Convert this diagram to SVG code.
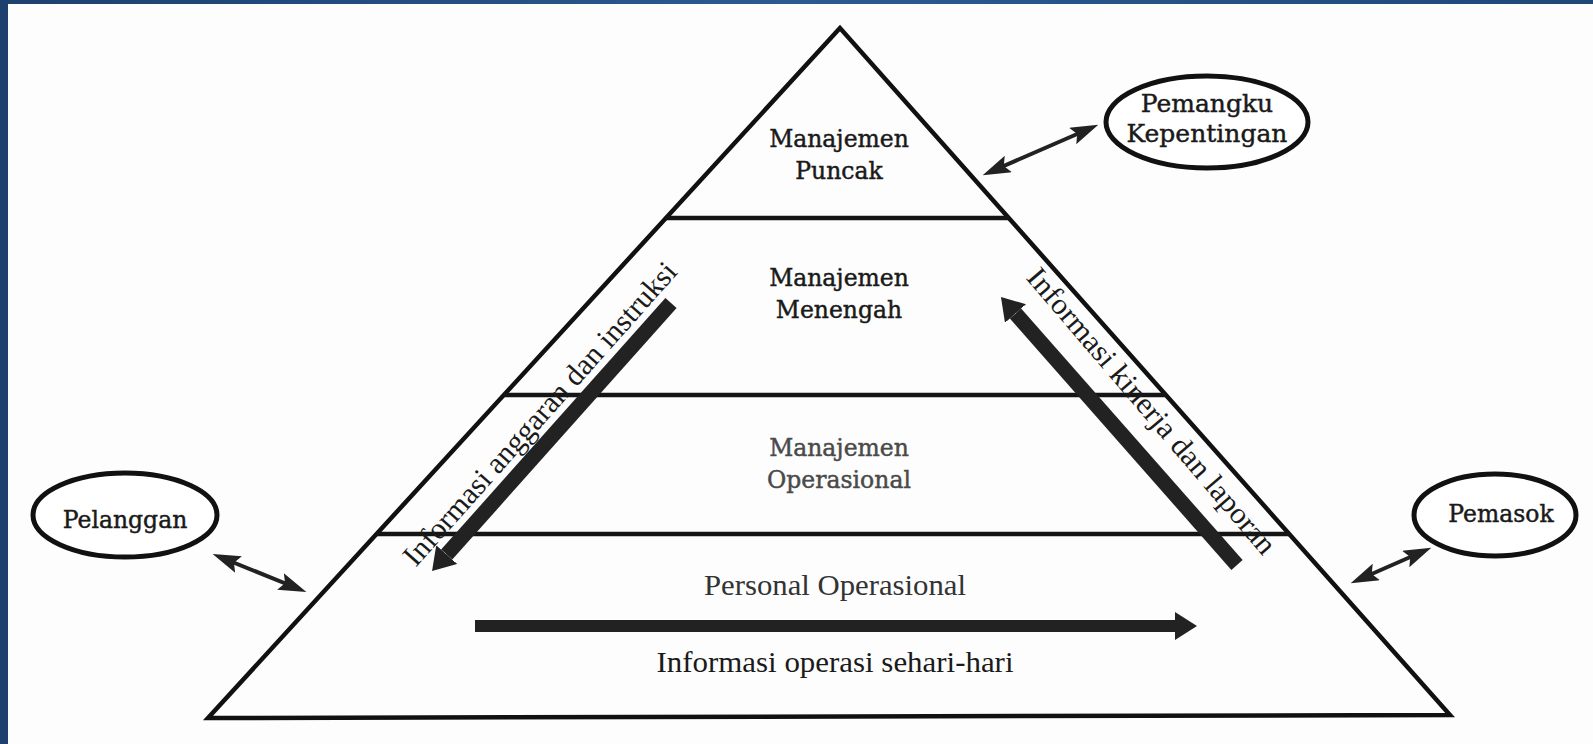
<svg xmlns="http://www.w3.org/2000/svg" width="1593" height="744" viewBox="0 0 1593 744">
  <style>
    .edge { fill: none; stroke: #111; stroke-width: 4.5; stroke-linejoin: miter; stroke-miterlimit: 20; }
    .tier { stroke: #151515; stroke-width: 4.5; }
    .lbl { font-family: "DejaVu Serif", "Liberation Serif", serif; font-size: 23.5px; fill: #1a1a1a; stroke: #1a1a1a; stroke-width: 0.45; text-anchor: middle; }
    .lbl.soft { fill: #4a4a4a; stroke: #4a4a4a; }
    .flow { font-family: "Liberation Serif", "DejaVu Serif", serif; font-size: 30px; fill: #1a1a1a; text-anchor: middle; }
    .flow.soft { fill: #333; }
    .oval { fill: #fff; stroke: #111; stroke-width: 5; }
    .link { stroke: #222; stroke-width: 4; fill: none; }
    .fat { stroke: #222; fill: none; stroke-linecap: butt; }
  </style>
  <defs>
    <linearGradient id="frame" x1="0" y1="0" x2="1" y2="0">
      <stop offset="0" stop-color="#1d406f"/>
      <stop offset="0.5" stop-color="#2b5a93"/>
      <stop offset="1" stop-color="#1f4878"/>
    </linearGradient>
    <!-- small two-way arrow head -->
    <marker id="tip" viewBox="0 0 28 18" markerUnits="userSpaceOnUse" markerWidth="28" markerHeight="18" refX="20" refY="9" orient="auto-start-reverse">
      <path d="M0,0 L28,9 L0,18 L5,9 z" fill="#222"/>
    </marker>
    <!-- head for the wide flow arrows -->
    <marker id="bigtip" viewBox="0 0 22 28" markerUnits="userSpaceOnUse" markerWidth="22" markerHeight="28" refX="0" refY="14" orient="auto">
      <path d="M0,0 L22,14 L0,28 z" fill="#222"/>
    </marker>
  </defs>

  <!-- page frame -->
  <rect x="0" y="0" width="1593" height="744" fill="url(#frame)"/>
  <rect x="8" y="4" width="1585" height="740" fill="#fdfdfd"/>

  <!-- pyramid outline and tier dividers -->
  <g id="pyramid">
    <polygon class="edge" points="840,28 208,718 1450,715"/>
    <line class="tier" x1="666" y1="218" x2="1009" y2="218"/>
    <line class="tier" x1="504" y1="395" x2="1166" y2="395"/>
    <line class="tier" x1="377" y1="534" x2="1290" y2="534"/>
  </g>

  <g id="top-management">
    <text class="lbl" x="839" y="147">Manajemen</text>
    <text class="lbl" x="839" y="179">Puncak</text>
  </g>
  <g id="middle-management">
    <text class="lbl" x="839" y="286">Manajemen</text>
    <text class="lbl" x="839" y="318">Menengah</text>
  </g>
  <g id="operational-management">
    <text class="lbl soft" x="839" y="456">Manajemen</text>
    <text class="lbl soft" x="839" y="488">Operasional</text>
  </g>
  <g id="operational-staff">
    <text class="flow soft" x="835" y="595" textLength="262" lengthAdjust="spacingAndGlyphs">Personal Operasional</text>
  </g>

  <g id="stakeholders">
    <ellipse class="oval" cx="1207" cy="122" rx="101" ry="46"/>
    <text class="lbl" x="1207" y="112" style="font-size:25px">Pemangku</text>
    <text class="lbl" x="1207" y="142" style="font-size:25px">Kepentingan</text>
  </g>
  <g id="customers">
    <ellipse class="oval" cx="125" cy="515" rx="92" ry="42"/>
    <text class="lbl" x="125" y="528">Pelanggan</text>
  </g>
  <g id="suppliers">
    <ellipse class="oval" cx="1495" cy="515" rx="81" ry="41"/>
    <text class="lbl" x="1501" y="522">Pemasok</text>
  </g>

  <!-- information flows -->
  <g id="connectors">
    <line class="link" x1="990" y1="172" x2="1091" y2="128" marker-start="url(#tip)" marker-end="url(#tip)"/>
    <line class="link" x1="220" y1="557" x2="299" y2="589" marker-start="url(#tip)" marker-end="url(#tip)"/>
    <line class="link" x1="1358" y1="580" x2="1424" y2="551" marker-start="url(#tip)" marker-end="url(#tip)"/>

    <line class="fat" x1="671" y1="303" x2="446.7" y2="554.6" stroke-width="15" marker-end="url(#bigtip)"/>
    <line class="fat" x1="1237" y1="565" x2="1015.5" y2="313.5" stroke-width="15" marker-end="url(#bigtip)"/>
    <line class="fat" x1="475" y1="626" x2="1175" y2="626" stroke-width="12" stroke="#2a2a2a" marker-end="url(#bigtip)"/>

    <text class="flow" transform="translate(551,437) rotate(-48.3)" x="10" y="-14" textLength="395" lengthAdjust="spacingAndGlyphs">Informasi anggaran dan instruksi</text>
    <text class="flow" transform="translate(1119,431) rotate(49.5)" x="6" y="-28" textLength="366" lengthAdjust="spacingAndGlyphs">Informasi kinerja dan laporan</text>
    <text class="flow" x="835" y="672" textLength="357" lengthAdjust="spacingAndGlyphs">Informasi operasi sehari-hari</text>
  </g>
</svg>
